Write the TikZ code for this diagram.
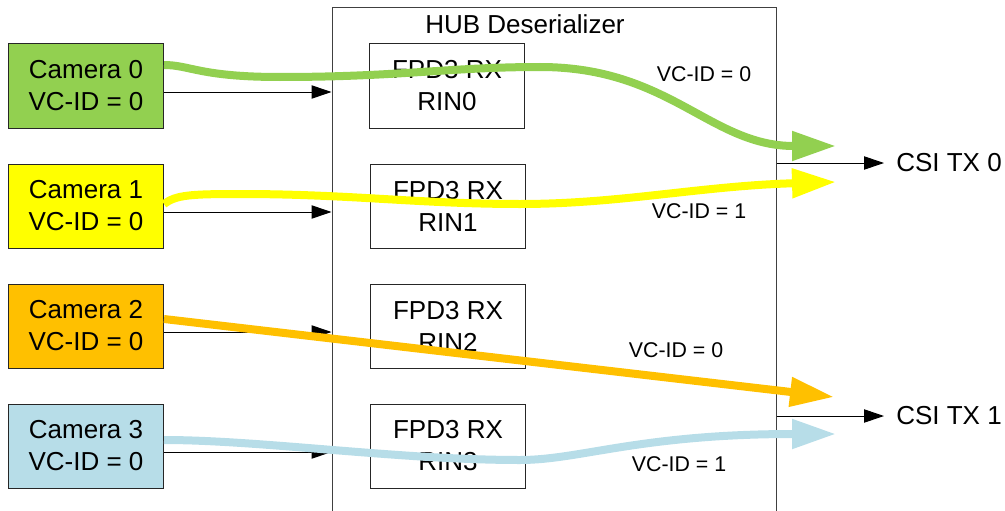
\documentclass[tikz,border=0pt]{standalone}
\usepackage{fontspec}
\setmainfont{Liberation Sans}
\usepackage{xcolor}
\usepackage{tikz}
\usetikzlibrary{arrows.meta, calc}

\definecolor{camgreen}{HTML}{92D050}
\definecolor{camyellow}{HTML}{FFFF00}
\definecolor{camorange}{HTML}{FFC000}
\definecolor{camblue}{HTML}{B7DDE8}

\begin{document}
\begin{tikzpicture}[every text node part/.style={align=center}, x = 0.75pt, y = -0.75pt]
			\tikzstyle{big} = [font = \fontsize{19.5}{24}\selectfont]
			\tikzstyle{small} = [font = \fontsize{16}{19}\selectfont]
			\tikzstyle{box} = [big, draw = black!85, line width = 0.75pt, rectangle, minimum width = 116.25pt, minimum height = 63pt, inner sep = 0pt]
			\tikzstyle{wire} = [line width = 0.75pt, -{Triangle[length = 15pt, width = 10pt]}]
			\tikzstyle{flow} = [line width = 6pt, -{Triangle[length = 33pt, width = 21pt]}]
			\tikzstyle{csi} = [big, inner xsep = 9pt, inner ysep = 0pt]
			\useasboundingbox (0, 0) rectangle (1005, 510);
			\clip (0, 0) rectangle (1005, 510);

			\path (554, 269) node[draw = black!75, line width = 0.75pt, minimum width = 333pt, minimum height = 391.5pt] (hub) {};
			\path (525, 24) node[big] (hubname) {HUB Deserializer};

			\path (86, 86) node[box, fill = camgreen] (cam0) {Camera 0\\VC-ID = 0};
			\path (86, 206) node[box, fill = camyellow] (cam1) {Camera 1\\VC-ID = 0};
			\path (86, 326) node[box, fill = camorange] (cam2) {Camera 2\\VC-ID = 0};
			\path (86, 446) node[box, fill = camblue] (cam3) {Camera 3\\VC-ID = 0};

			\path (447, 86) node[box, fill = white] (rx0) {FPD3 RX\\RIN0};
			\path (448, 206) node[box, fill = white] (rx1) {FPD3 RX\\RIN1};
			\path (448, 326) node[box, fill = white] (rx2) {FPD3 RX\\RIN2};
			\path (448, 446) node[box, fill = white] (rx3) {FPD3 RX\\RIN3};

			\path (949, 163) node[csi] (csi0) {CSI TX 0};
			\path (949, 416) node[csi] (csi1) {CSI TX 1};

			\path (704, 74) node[small] (vc0) {VC-ID = 0};
			\path (699, 211) node[small] (vc1) {VC-ID = 1};
			\path (676, 350) node[small] (vc2) {VC-ID = 0};
			\path (679, 464) node[small] (vc3) {VC-ID = 1};

			\path ($(cam0.east)+(0, 6)$) coordinate (in0);
			\path ($(cam1.east)+(0, 6)$) coordinate (in1);
			\path ($(cam2.east)+(0, 6)$) coordinate (in2);
			\path ($(cam3.east)+(0, 6)$) coordinate (in3);

			\path (836, 146) coordinate (tip0);
			\path (836, 182) coordinate (tip1);
			\path (834, 397) coordinate (tip2);
			\path (836, 434) coordinate (tip3);

			% camera links into the hub
			\path[draw, wire] (in0) -- (in0 -| hub.west);
			\path[draw, wire] (in1) -- (in1 -| hub.west);
			\path[draw, wire] (in2) -- (in2 -| hub.west);
			\path[draw, wire] (in3) -- (in3 -| hub.west);

			\path[draw, wire] (csi0 -| hub.east) -- (csi0.west);
			\path[draw, wire] (csi1 -| hub.east) -- (csi1.west);

			% virtual channels
			\path[draw, flow, draw = camgreen] ($(cam0.east)+(0, -21)$) .. controls (190, 65) and (200, 77) .. (280, 77) .. controls (400, 77) and (450, 67) .. (540, 67) .. controls (670, 67) and (710, 146) .. (tip0);
			\path[draw, flow, draw = camyellow] ($(cam1.east)+(0, -2)$) .. controls (176, 195) and (190, 194) .. (240, 194) .. controls (350, 194) and (420, 204) .. (520, 204) .. controls (620, 204) and (700, 186) .. (tip1);
			\path[draw, flow, draw = camorange] ($(cam2.east)+(0, -7)$) -- (tip2);
			\path[draw, flow, draw = camblue] ($(cam3.east)+(0, -6)$) .. controls (260, 440) and (400, 460) .. (520, 460) .. controls (580, 460) and (640, 434) .. (tip3);
		\end{tikzpicture}
\end{document}
